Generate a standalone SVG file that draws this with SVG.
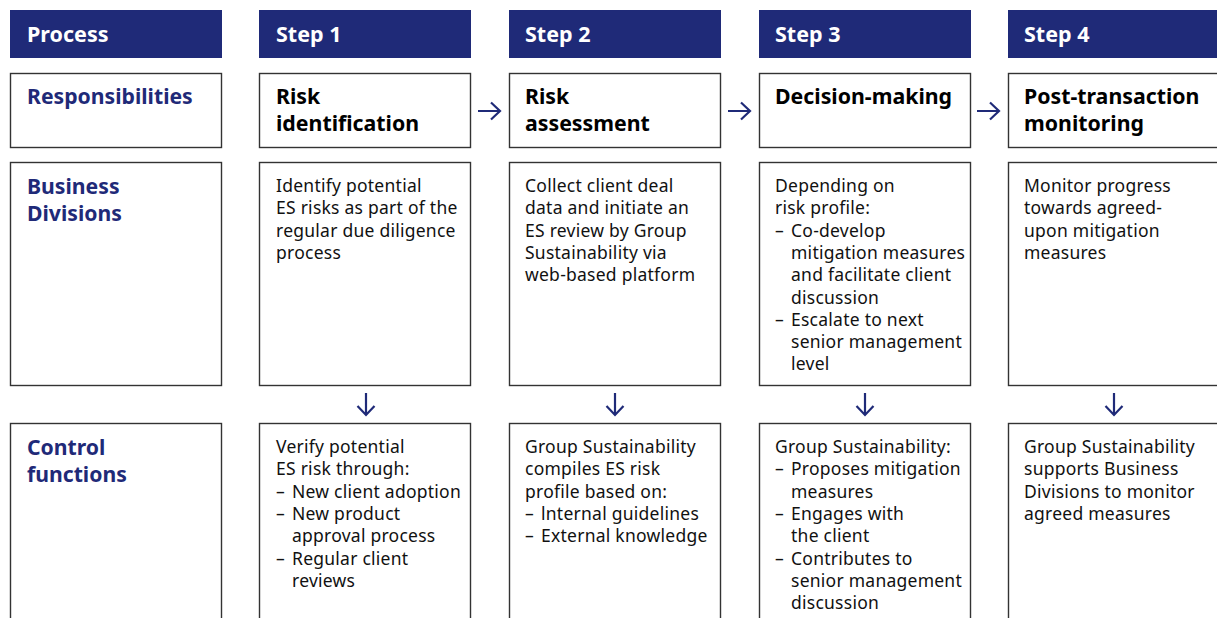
<svg xmlns="http://www.w3.org/2000/svg" width="1217" height="618" viewBox="0 0 1217 618">
<style>
.hdr{fill:#1f2a78}
.hdrt{fill:#fff;font-family:"Noto Sans",sans-serif;font-weight:bold;font-size:21.5px}
.box{fill:#fff;stroke:#333;stroke-width:1.4}
.lbl{fill:#1f2a78;font-family:"Noto Sans",sans-serif;font-weight:bold;font-size:21.2px}
.ttl{fill:#000;font-family:"Noto Sans",sans-serif;font-weight:bold;font-size:21.3px}
.body{fill:#111;font-family:"Noto Sans",sans-serif;font-size:17.5px;letter-spacing:0.25px}
.arr{fill:none;stroke:#1f2a78;stroke-width:2.2}
</style>
<rect width="1217" height="618" fill="#fff"/>
<g id="header-process"><rect class="hdr" x="10" y="10" width="212" height="48"/><text class="hdrt" x="27" y="42">Process</text></g>
<g id="header-step1"><rect class="hdr" x="259" y="10" width="212" height="48"/><text class="hdrt" x="276" y="42">Step 1</text></g>
<g id="header-step2"><rect class="hdr" x="509" y="10" width="212" height="48"/><text class="hdrt" x="525" y="42">Step 2</text></g>
<g id="header-step3"><rect class="hdr" x="759" y="10" width="212" height="48"/><text class="hdrt" x="775" y="42">Step 3</text></g>
<g id="header-step4"><rect class="hdr" x="1008" y="10" width="215" height="48"/><text class="hdrt" x="1024" y="42">Step 4</text></g>

<g id="resp-label"><rect class="box" x="10.5" y="73.5" width="211" height="74"/><text class="lbl" x="27" y="104">Responsibilities</text></g>
<g id="resp-step1"><rect class="box" x="259.5" y="73.5" width="211" height="74"/><text class="ttl" x="276" y="104">Risk</text><text class="ttl" x="276" y="131">identification</text></g>
<g id="resp-step2"><rect class="box" x="509.5" y="73.5" width="211" height="74"/><text class="ttl" x="525" y="104">Risk</text><text class="ttl" x="525" y="131">assessment</text></g>
<g id="resp-step3"><rect class="box" x="759.5" y="73.5" width="211" height="74"/><text class="ttl" x="775" y="104">Decision-making</text></g>
<g id="resp-step4"><rect class="box" x="1008.5" y="73.5" width="220" height="74"/><text class="ttl" x="1024" y="104">Post-transaction</text><text class="ttl" x="1024" y="131">monitoring</text></g>

<g id="bd-label"><rect class="box" x="10.5" y="162.5" width="211" height="223"/><text class="lbl" x="27" y="194">Business</text><text class="lbl" x="27" y="221">Divisions</text></g>
<g id="bd-step1"><rect class="box" x="259.5" y="162.5" width="211" height="223"/>
<text class="body" x="276" y="192">Identify potential</text>
<text class="body" x="276" y="214.3">ES risks as part of the</text>
<text class="body" x="276" y="236.6">regular due diligence</text>
<text class="body" x="276" y="258.9">process</text></g>
<g id="bd-step2"><rect class="box" x="509.5" y="162.5" width="211" height="223"/>
<text class="body" x="525" y="192">Collect client deal</text>
<text class="body" x="525" y="214.3">data and initiate an</text>
<text class="body" x="525" y="236.6">ES review by Group</text>
<text class="body" x="525" y="258.9">Sustainability via</text>
<text class="body" x="525" y="281.2">web-based platform</text></g>
<g id="bd-step3"><rect class="box" x="759.5" y="162.5" width="211" height="223"/>
<text class="body" x="775" y="192">Depending on</text>
<text class="body" x="775" y="214.3">risk profile:</text>
<text class="body" x="775" y="236.6">–</text><text class="body" x="791" y="236.6">Co-develop</text>
<text class="body" x="791" y="258.9">mitigation measures</text>
<text class="body" x="791" y="281.2">and facilitate client</text>
<text class="body" x="791" y="303.5">discussion</text>
<text class="body" x="775" y="325.8">–</text><text class="body" x="791" y="325.8">Escalate to next</text>
<text class="body" x="791" y="348.1">senior management</text>
<text class="body" x="791" y="370.4">level</text></g>
<g id="bd-step4"><rect class="box" x="1008.5" y="162.5" width="220" height="223"/>
<text class="body" x="1024" y="192">Monitor progress</text>
<text class="body" x="1024" y="214.3">towards agreed-</text>
<text class="body" x="1024" y="236.6">upon mitigation</text>
<text class="body" x="1024" y="258.9">measures</text></g>

<g id="cf-label"><rect class="box" x="10.5" y="423.5" width="211" height="210"/><text class="lbl" x="27" y="455">Control</text><text class="lbl" x="27" y="482">functions</text></g>
<g id="cf-step1"><rect class="box" x="259.5" y="423.5" width="211" height="210"/>
<text class="body" x="276" y="453">Verify potential</text>
<text class="body" x="276" y="475.3">ES risk through:</text>
<text class="body" x="276" y="497.6">–</text><text class="body" x="292" y="497.6">New client adoption</text>
<text class="body" x="276" y="519.9">–</text><text class="body" x="292" y="519.9">New product</text>
<text class="body" x="292" y="542.2">approval process</text>
<text class="body" x="276" y="564.5">–</text><text class="body" x="292" y="564.5">Regular client</text>
<text class="body" x="292" y="586.8">reviews</text></g>
<g id="cf-step2"><rect class="box" x="509.5" y="423.5" width="211" height="210"/>
<text class="body" x="525" y="453">Group Sustainability</text>
<text class="body" x="525" y="475.3">compiles ES risk</text>
<text class="body" x="525" y="497.6">profile based on:</text>
<text class="body" x="525" y="519.9">–</text><text class="body" x="541" y="519.9">lnternal guidelines</text>
<text class="body" x="525" y="542.2">–</text><text class="body" x="541" y="542.2">External knowledge</text></g>
<g id="cf-step3"><rect class="box" x="759.5" y="423.5" width="211" height="210"/>
<text class="body" x="775" y="453">Group Sustainability:</text>
<text class="body" x="775" y="475.3">–</text><text class="body" x="791" y="475.3">Proposes mitigation</text>
<text class="body" x="791" y="497.6">measures</text>
<text class="body" x="775" y="519.9">–</text><text class="body" x="791" y="519.9">Engages with</text>
<text class="body" x="791" y="542.2">the client</text>
<text class="body" x="775" y="564.5">–</text><text class="body" x="791" y="564.5">Contributes to</text>
<text class="body" x="791" y="586.8">senior management</text>
<text class="body" x="791" y="609.1">discussion</text></g>
<g id="cf-step4"><rect class="box" x="1008.5" y="423.5" width="220" height="210"/>
<text class="body" x="1024" y="453">Group Sustainability</text>
<text class="body" x="1024" y="475.3">supports Business</text>
<text class="body" x="1024" y="497.6">Divisions to monitor</text>
<text class="body" x="1024" y="519.9">agreed measures</text></g>

<g id="connectors">
<path class="arr" d="M478 111H500M491 102.5L500 111L491 119.5"/>
<path class="arr" d="M728 111H750M741 102.5L750 111L741 119.5"/>
<path class="arr" d="M977 111H999M990 102.5L999 111L990 119.5"/>
<path class="arr" d="M366 393V415M357.5 406L366 415L374.5 406"/>
<path class="arr" d="M615 393V415M606.5 406L615 415L623.5 406"/>
<path class="arr" d="M865 393V415M856.5 406L865 415L873.5 406"/>
<path class="arr" d="M1114 393V415M1105.5 406L1114 415L1122.5 406"/>
</g>
</svg>
